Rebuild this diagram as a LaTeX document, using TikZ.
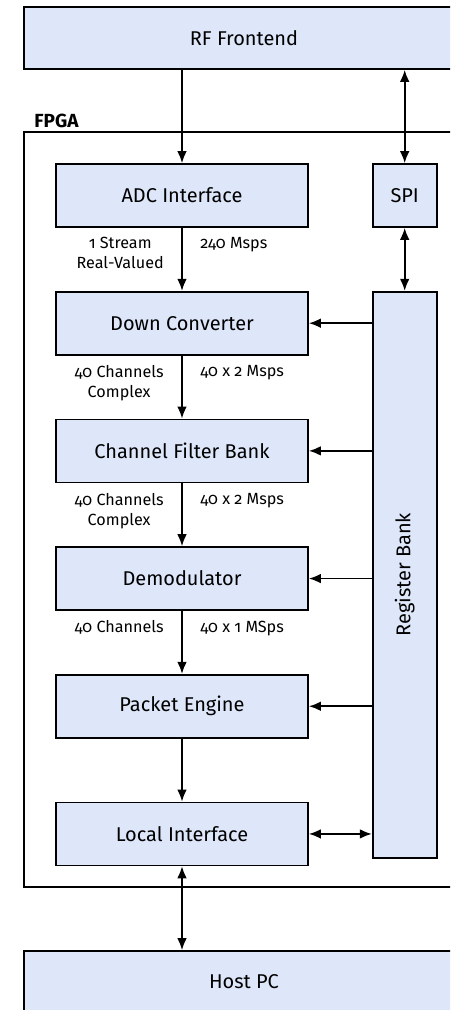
\documentclass[tikz,border=0pt]{standalone}
\usepackage{fontspec}
\setmainfont[Numbers=OldStyle]{Fira Sans}
\usetikzlibrary{positioning,arrows.meta}

\definecolor{blockfill}{RGB}{222,231,250}

\tikzset{
  block/.style={draw, fill=blockfill, line width=1.2pt, minimum width=6.3cm,
    minimum height=1.575cm, font=\fontsize{14.2}{16}\selectfont},
  smallblock/.style={block, minimum width=1.6cm},
  wide/.style={block, minimum width=11cm, minimum height=1.55cm},
  lbl/.style={font=\fontsize{11.5}{14.2}\selectfont, align=center, inner sep=1pt},
  link/.style={line width=1.2pt, -{Latex[length=3mm,width=2.4mm]}},
  dlink/.style={line width=1.2pt, {Latex[length=3mm,width=2.4mm]}-{Latex[length=3mm,width=2.4mm]}},
}

\begin{document}
\begin{tikzpicture}[node distance=1.575cm]
  \useasboundingbox (0,0) rectangle (11.25,-25.25);
  \clip (0,0) rectangle (11.25,-25.25);

  \node[wide] (rf) at (6.1,-0.95) {RF Frontend};
  \draw[line width=1.2pt] (0.6,-3.3) rectangle (11.6,-22.175);
  \node[anchor=south west, inner sep=1pt, font=\fontsize{13.5}{16}\selectfont\bfseries] (fpga) at (0.82,-3.25) {FPGA};

  \node[block] (adc) at (4.55,-4.8875) {ADC Interface};
  \node[block] (ddc) [below=of adc] {Down Converter};
  \node[block] (cfb) [below=of ddc] {Channel Filter Bank};
  \node[block] (demod) [below=of cfb] {Demodulator};
  \node[block] (pkt) [below=of demod] {Packet Engine};
  \node[block] (local) [below=of pkt] {Local Interface};

  \node[smallblock] (spi) [right=of adc] {SPI};
  \node[smallblock, minimum height=14.15cm] (regs) [below=of spi] {};
  \node[rotate=90, font=\fontsize{14.2}{16}\selectfont] (regtext) at (regs) {Register Bank};

  \node[wide] (host) at (6.1,-24.55) {Host PC};

  \draw[link] (rf.south -| adc) -- (adc);
  \draw[dlink] (rf.south -| spi) -- (spi);
  \draw[dlink] (spi) -- (regs);

  \draw[link] (adc) -- (ddc)
    node[lbl, pos=0.12, anchor=north east, xshift=-0.4cm] {1 Stream\\Real-Valued}
    node[lbl, pos=0.12, anchor=north west, xshift=0.4cm] {240 Msps};
  \draw[link] (ddc) -- (cfb)
    node[lbl, pos=0.12, anchor=north east, xshift=-0.4cm] {40 Channels\\Complex}
    node[lbl, pos=0.12, anchor=north west, xshift=0.4cm] {40 x 2 Msps};
  \draw[link] (cfb) -- (demod)
    node[lbl, pos=0.12, anchor=north east, xshift=-0.4cm] {40 Channels\\Complex}
    node[lbl, pos=0.12, anchor=north west, xshift=0.4cm] {40 x 2 Msps};
  \draw[link] (demod) -- (pkt)
    node[lbl, pos=0.12, anchor=north east, xshift=-0.4cm] {40 Channels}
    node[lbl, pos=0.12, anchor=north west, xshift=0.4cm] {40 x 1 MSps};
  \draw[link] (pkt) -- (local);

  \foreach \blk in {ddc, cfb, demod, pkt}
    \draw[link] (regs.west |- \blk) -- (\blk);
  \draw[dlink] (local) -- (regs.west |- local);

  \draw[dlink] (local) -- (host.north -| local);
\end{tikzpicture}
\end{document}
